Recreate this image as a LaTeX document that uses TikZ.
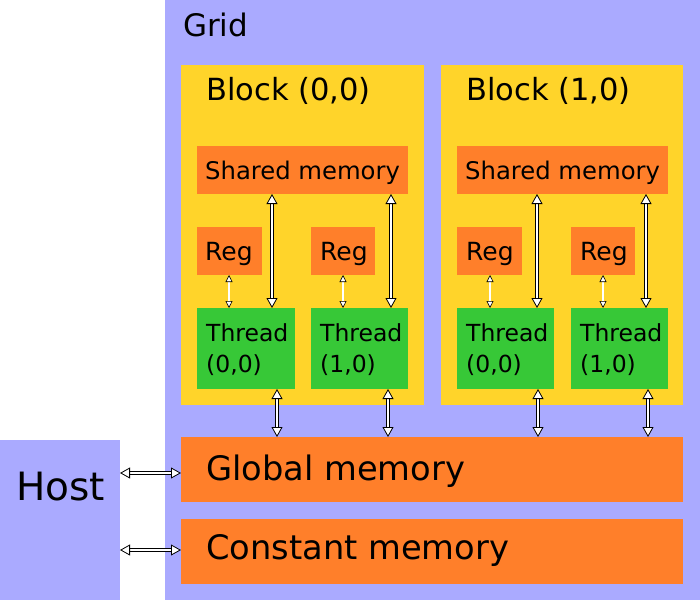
\documentclass[tikz,border=0pt]{standalone}
\usepackage{fontspec}
\setmainfont{DejaVu Sans}
\usetikzlibrary{arrows.meta,positioning}
\definecolor{gridblue}{HTML}{AAAAFF}
\definecolor{blockyellow}{HTML}{FFD42A}
\definecolor{memorange}{HTML}{FF7F2A}
\definecolor{threadgreen}{HTML}{37C837}
\tikzset{
  box/.style={anchor=north west, inner sep=0pt, outer sep=0pt},
  gridbox/.style={box, fill=gridblue},
  blockbox/.style={box, fill=blockyellow},
  membox/.style={box, fill=memorange},
  threadbox/.style={box, fill=threadgreen},
  lbl/.style={anchor=base west, inner sep=0pt},
  bigarrow/.style={draw=black, line width=0.8pt, double=white, double distance=2.6pt,
    {Triangle[length=10pt,width=11pt,fill=white]}-{Triangle[length=10pt,width=11pt,fill=white]}},
  smallarrow/.style={draw=black, line width=0.6pt, double=white, double distance=1.6pt,
    {Triangle[length=7pt,width=7pt,fill=white]}-{Triangle[length=7pt,width=7pt,fill=white]}}
}

\begin{document}
\begin{tikzpicture}[x=1pt,y=-1pt]
    \useasboundingbox (0,0) rectangle (700,600);

    % grid and host
    \node[gridbox, minimum width=535, minimum height=600] (grid) at (165,0) {};
    \node[gridbox, minimum width=120, minimum height=160] (host) at (0,440) {};

    % blocks
    \node[blockbox, minimum width=243, minimum height=340] (blk0) at (181,65) {};
    \node[blockbox, minimum width=242, minimum height=340] (blk1) at (441,65) {};

    \node[membox, minimum width=211, minimum height=48] (shr0) at (197,146) {};
    \node[membox, minimum width=211, minimum height=48] (shr1) at (457,146) {};

    \node[membox, minimum width=65, minimum height=48] (reg00) at (197,227) {};
    \node[membox, minimum width=64, minimum height=48] (reg01) at (311,227) {};
    \node[membox, minimum width=65, minimum height=48] (reg10) at (457,227) {};
    \node[membox, minimum width=64, minimum height=48] (reg11) at (571,227) {};

    \node[threadbox, minimum width=98, minimum height=81] (thr00) at (197,308) {};
    \node[threadbox, minimum width=97, minimum height=81] (thr01) at (311,308) {};
    \node[threadbox, minimum width=97, minimum height=81] (thr10) at (457,308) {};
    \node[threadbox, minimum width=97, minimum height=81] (thr11) at (571,308) {};

    % memories
    \node[membox, minimum width=502, minimum height=65] (glob) at (181,437) {};
    \node[membox, minimum width=502, minimum height=65] (const) at (181,519) {};

    % labels
    \node[lbl, font=\fontsize{31}{37}\selectfont] (gridtxt) at (183,36) {Grid};
    \node[lbl, font=\fontsize{39}{47}\selectfont] (hosttxt) at (16,500) {Host};
    \node[lbl, font=\fontsize{30.5}{36}\selectfont] (blk0txt) at (206,100) {Block (0,0)};
    \node[lbl, font=\fontsize{30.5}{36}\selectfont] (blk1txt) at (466,100) {Block (1,0)};
    \node[lbl, font=\fontsize{24.3}{29}\selectfont] (shr0txt) at (205,179) {Shared memory};
    \node[lbl, font=\fontsize{24.3}{29}\selectfont] (shr1txt) at (465,179) {Shared memory};
    \node[lbl, font=\fontsize{25}{30}\selectfont] (reg00txt) at (205,260) {Reg};
    \node[lbl, font=\fontsize{25}{30}\selectfont] (reg01txt) at (320,260) {Reg};
    \node[lbl, font=\fontsize{25}{30}\selectfont] (reg10txt) at (466,260) {Reg};
    \node[lbl, font=\fontsize{25}{30}\selectfont] (reg11txt) at (580,260) {Reg};
    \node[lbl, align=left, font=\fontsize{23.5}{31}\selectfont] (thr00txt) at (206,372) {Thread\\(0,0)};
    \node[lbl, align=left, font=\fontsize{23.5}{31}\selectfont] (thr01txt) at (320,372) {Thread\\(1,0)};
    \node[lbl, align=left, font=\fontsize{23.5}{31}\selectfont] (thr10txt) at (466,372) {Thread\\(0,0)};
    \node[lbl, align=left, font=\fontsize{23.5}{31}\selectfont] (thr11txt) at (580,372) {Thread\\(1,0)};
    \node[lbl, font=\fontsize{33.7}{40}\selectfont] (globtxt) at (206,480) {Global memory};
    \node[lbl, font=\fontsize{33.7}{40}\selectfont] (consttxt) at (206,559) {Constant memory};

    % shared memory <-> threads
    \draw[bigarrow] (272,0 |- shr0.south) -- (272,0 |- thr00.north);
    \draw[bigarrow] (391,0 |- shr0.south) -- (391,0 |- thr01.north);
    \draw[bigarrow] (537,0 |- shr1.south) -- (537,0 |- thr10.north);
    \draw[bigarrow] (646,0 |- shr1.south) -- (646,0 |- thr11.north);

    % registers <-> threads
    \draw[smallarrow] (229,0 |- reg00.south) -- (229,0 |- thr00.north);
    \draw[smallarrow] (343,0 |- reg01.south) -- (343,0 |- thr01.north);
    \draw[smallarrow] (490,0 |- reg10.south) -- (490,0 |- thr10.north);
    \draw[smallarrow] (603,0 |- reg11.south) -- (603,0 |- thr11.north);

    % threads <-> global memory
    \draw[bigarrow] (277,0 |- thr00.south) -- (277,0 |- glob.north);
    \draw[bigarrow] (388,0 |- thr01.south) -- (388,0 |- glob.north);
    \draw[bigarrow] (538,0 |- thr10.south) -- (538,0 |- glob.north);
    \draw[bigarrow] (648,0 |- thr11.south) -- (648,0 |- glob.north);

    % host <-> memories
    \draw[bigarrow] (host.east |- 0,473) -- (glob.west |- 0,473);
    \draw[bigarrow] (host.east |- 0,550) -- (const.west |- 0,550);

\end{tikzpicture}
\end{document}
